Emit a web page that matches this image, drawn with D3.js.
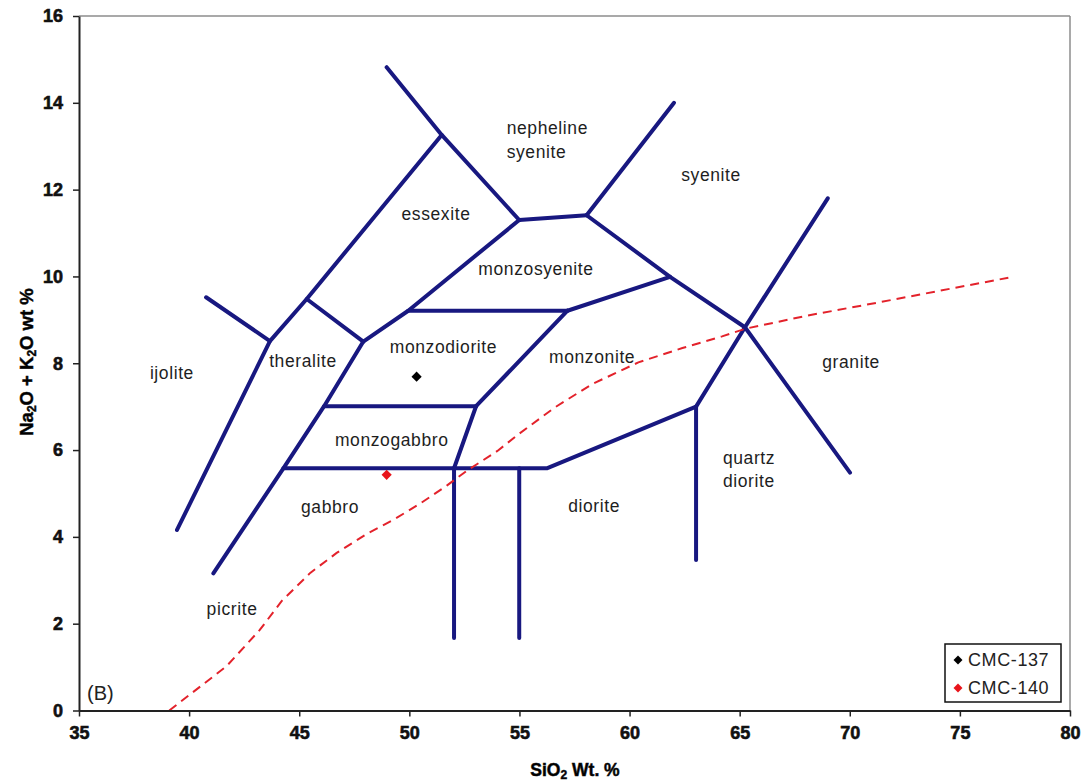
<!DOCTYPE html>
<html>
<head>
<meta charset="utf-8">
<title>TAS plutonic classification</title>
<script src="https://d3js.org/d3.v7.min.js"></script>
<style>
  body { margin: 0; background: #fff; }
  text { font-family: Arial, "Liberation Sans", sans-serif; }
</style>
</head>
<body>
<svg id="chart" width="1086" height="782"></svg>
<script>
// field boundaries, [SiO2, Na2O+K2O]
var ijoliteEdge   = [[39.45, 4.16], [43.67, 8.51], [45.34, 9.48], [51.47, 13.26]];
var ijoliteSpur   = [[40.77, 9.52], [43.67, 8.51]];
var theraliteTop  = [[45.34, 9.48], [47.91, 8.50]];
var nephTop       = [[48.97, 14.82], [51.47, 13.26], [54.99, 11.30]];
var nephBase      = [[54.99, 11.30], [58.05, 11.41]];
var syeniteLeft   = [[58.05, 11.41], [62.02, 14.0]];
var syeniteBase   = [[58.05, 11.41], [61.84, 9.99], [65.24, 8.83]];
var monzoSyBase   = [[61.84, 9.99], [57.18, 9.21]];
var essexiteBase  = [[47.91, 8.50], [49.95, 9.21], [54.99, 11.30]];
var monzoDioTop   = [[49.95, 9.21], [57.18, 9.21]];
var monzoDioRight = [[57.18, 9.21], [53.03, 7.01]];
var gabbroLeft    = [[47.91, 8.50], [46.13, 7.01], [44.28, 5.58], [41.10, 3.16]];
var monzoGabTop   = [[46.13, 7.01], [53.03, 7.01]];
var monzoGabRight = [[53.03, 7.01], [52.03, 5.58]];
var dioriteTop    = [[44.28, 5.58], [52.03, 5.58], [54.99, 5.58], [56.24, 5.58], [63.02, 7.0]];
var gabbroRight   = [[52.03, 5.58], [52.03, 1.67]];
var dioriteLeft   = [[54.99, 5.58], [54.99, 1.67]];
var qtzDioLeft    = [[63.02, 7.0], [63.02, 3.47]];
var graniteLeft   = [[63.02, 7.0], [65.24, 8.83], [69.0, 11.8]];
var graniteRight  = [[65.24, 8.83], [70.01, 5.48]];

var boundaries = [ijoliteEdge, ijoliteSpur, theraliteTop, nephTop, nephBase, syeniteLeft,
  syeniteBase, monzoSyBase, essexiteBase, monzoDioTop, monzoDioRight, gabbroLeft,
  monzoGabTop, monzoGabRight, dioriteTop, gabbroRight, dioriteLeft, qtzDioLeft,
  graniteLeft, graniteRight];

// alkaline / subalkaline divide (red dashed)
var divideSiO2 = [39.1, 41.7, 43.2, 44.2, 45.5, 46.7, 48.1, 49.3, 50.5, 51.7, 52.6, 54.0, 55.0, 56.6, 58.3, 60.4, 62.4, 64.2, 65.3, 68.1, 71.4, 74.6, 77.2];
var divideAlk  = [0.0, 1.02, 1.85, 2.52, 3.17, 3.63, 4.08, 4.40, 4.77, 5.18, 5.52, 5.98, 6.38, 6.98, 7.52, 8.02, 8.35, 8.62, 8.80, 9.10, 9.41, 9.72, 9.97];

// samples
var sampleNames = ["CMC-137", "CMC-140"];
var sampleSiO2  = [50.33, 48.97];
var sampleAlk   = [7.69, 5.43];
var sampleColors = ["#000000", "#e8141b"];

// field names: [label lines, SiO2, alk, anchor]
var fieldNames = [
  [["ijolite"], 39.22, 7.77, "middle"],
  [["theralite"], 45.17, 8.05, "middle"],
  [["essexite"], 51.21, 11.44, "middle"],
  [["nepheline", "syenite"], 54.42, 13.42, "start"],
  [["syenite"], 63.70, 12.34, "middle"],
  [["monzosyenite"], 55.75, 10.17, "middle"],
  [["monzodiorite"], 51.55, 8.38, "middle"],
  [["monzonite"], 58.30, 8.15, "middle"],
  [["monzogabbro"], 49.20, 6.23, "middle"],
  [["gabbro"], 46.40, 4.69, "middle"],
  [["picrite"], 41.95, 2.35, "middle"],
  [["diorite"], 58.39, 4.71, "middle"],
  [["quartz", "diorite"], 64.24, 5.83, "start"],
  [["granite"], 70.06, 8.03, "middle"]
];

var xTicks = [35, 40, 45, 50, 55, 60, 65, 70, 75, 80];
var yTicks = [0, 2, 4, 6, 8, 10, 12, 14, 16];

var svg = d3.select("#chart");
var plotLeft = 79, plotRight = 1070, plotTop = 16, plotBottom = 710.5;

var x = d3.scaleLinear().domain([35, 80]).range([plotLeft, plotRight]);
var y = d3.scaleLinear().domain([0, 16]).range([plotBottom, plotTop]);

// gray frame top/right
svg.append("line").attr("x1", plotLeft).attr("x2", plotRight).attr("y1", plotTop).attr("y2", plotTop)
  .attr("stroke", "#8c8c8c").attr("stroke-width", 1.5);
svg.append("line").attr("x1", plotRight).attr("x2", plotRight).attr("y1", plotTop).attr("y2", plotBottom)
  .attr("stroke", "#8c8c8c").attr("stroke-width", 1.5);

var line = d3.line().x(function(d) { return x(d[0]); }).y(function(d) { return y(d[1]); });

svg.append("g").selectAll("path")
  .data(boundaries)
  .enter()
  .append("path")
  .attr("d", line)
  .attr("fill", "none")
  .attr("stroke", "#181880")
  .attr("stroke-width", 4)
  .attr("stroke-linejoin", "round")
  .attr("stroke-linecap", "round");

var divide = divideSiO2.map(function(v, i) { return [v, divideAlk[i]]; });
svg.append("path")
  .attr("d", line(divide))
  .attr("fill", "none")
  .attr("stroke", "#e3222b")
  .attr("stroke-width", 2)
  .attr("stroke-dasharray", "9,6");

// field labels
fieldNames.forEach(function(f) {
  var t = svg.append("text")
    .attr("x", x(f[1]))
    .attr("y", y(f[2]))
    .attr("text-anchor", f[3])
    .attr("font-size", 17.5)
    .attr("letter-spacing", 0.6)
    .attr("fill", "#1e1e1e");
  f[0].forEach(function(s, i) {
    t.append("tspan").attr("x", x(f[1])).attr("dy", i === 0 ? "0.35em" : 23.5).text(s);
  });
});

// samples
var diamond = d3.symbol().type(d3.symbolSquare).size(52);
svg.append("g").selectAll("path")
  .data(sampleNames)
  .enter()
  .append("path")
  .attr("d", diamond)
  .attr("transform", function(d, i) {
    return "translate(" + x(sampleSiO2[i]) + "," + y(sampleAlk[i]) + ") rotate(45)";
  })
  .attr("fill", function(d, i) { return sampleColors[i]; });

// axes
var xAxis = svg.append("g")
  .attr("transform", "translate(0," + plotBottom + ")")
  .call(d3.axisBottom(x).tickValues(xTicks).tickSize(6).tickSizeOuter(0).tickPadding(10));
var yAxis = svg.append("g")
  .attr("transform", "translate(" + plotLeft + ",0)")
  .call(d3.axisLeft(y).tickValues(yTicks).tickSize(6).tickSizeOuter(0).tickPadding(10));

[xAxis, yAxis].forEach(function(a) {
  a.select(".domain").attr("stroke", "#222").attr("stroke-width", 2);
  a.selectAll(".tick line").attr("stroke", "#222").attr("stroke-width", 1.5);
  a.selectAll(".tick text")
    .attr("font-family", "Arial, 'Liberation Sans', sans-serif")
    .attr("font-size", 18)
    .attr("font-weight", "bold")
    .attr("fill", "#111")
    .attr("stroke", "#111")
    .attr("stroke-width", 0.6);
});

// axis titles
var xt = svg.append("text")
  .attr("x", 575).attr("y", 776)
  .attr("text-anchor", "middle")
  .attr("font-size", 17.5).attr("font-weight", "bold")
  .attr("stroke", "#111").attr("stroke-width", 0.5);
xt.append("tspan").text("SiO");
xt.append("tspan").attr("font-size", 12).attr("dy", 3).text("2");
xt.append("tspan").attr("dy", -3).text(" Wt. %");

var yt = svg.append("text")
  .attr("transform", "translate(33,362) rotate(-90)")
  .attr("text-anchor", "middle")
  .attr("font-size", 18.5).attr("font-weight", "bold")
  .attr("stroke", "#111").attr("stroke-width", 0.5);
yt.append("tspan").text("Na");
yt.append("tspan").attr("font-size", 12).attr("dy", 3).text("2");
yt.append("tspan").attr("dy", -3).text("O + K");
yt.append("tspan").attr("font-size", 12).attr("dy", 3).text("2");
yt.append("tspan").attr("dy", -3).text("O wt %");

// panel tag
svg.append("text").attr("x", 87).attr("y", 700)
  .attr("font-size", 20).attr("fill", "#222").text("(B)");

// legend
var lg = svg.append("g").attr("transform", "translate(945,644)");
lg.append("rect").attr("width", 116).attr("height", 58)
  .attr("fill", "#fff").attr("stroke", "#111").attr("stroke-width", 1.5);
sampleNames.forEach(function(n, i) {
  lg.append("path").attr("d", d3.symbol().type(d3.symbolSquare).size(40))
    .attr("transform", "translate(13," + (16 + i * 28) + ") rotate(45)")
    .attr("fill", sampleColors[i]);
  lg.append("text").attr("x", 23).attr("y", 16 + i * 28).attr("dy", "0.35em")
    .attr("font-size", 18).attr("letter-spacing", 0.6).attr("fill", "#222").text(n);
});
</script>
</body>
</html>
